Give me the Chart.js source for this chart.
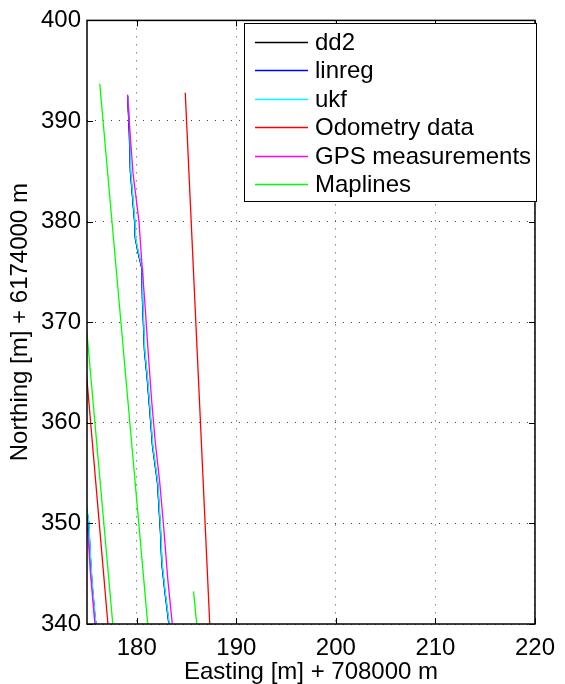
<!DOCTYPE html>
<html>
<head>
<meta charset="utf-8">
<title>Northing vs Easting</title>
<script src="https://cdn.jsdelivr.net/npm/chart.js@4.4.0/dist/chart.umd.min.js"></script>
<style>
  body { margin: 0; background: #fff; }
</style>
</head>
<body>
<canvas id="myChart" width="565" height="684"></canvas>
<script>
// tick labels
const xTicks = [180, 190, 200, 210, 220];
const yTicks = [340, 350, 360, 370, 380, 390, 400];

// track: upper long segment, null, then short segment at the left edge
const trackY = [392.45, 388.88, 384.94, 380.02, 378.35, 377.07, 375.39, 372.15, 370.47, 367.22,
                364.27, 360.93, 357.68, 354.04, 349.31, 346.06, 343.40, 339.96,
                null, 352.5, 350.0, 347.34, 344.09, 340.3, 339.8];
const dd2X    = [179.08, 179.26, 179.37, 179.79, 179.86, 180.11, 180.51, 180.58, 180.65, 180.78,
                 181.07, 181.34, 181.59, 182.09, 182.38, 182.52, 182.81, 183.24,
                 null, 174.8, 175.17, 175.29, 175.49, 175.83, 175.87];
const linregX = [179.10, 179.24, 179.36, 179.78, 179.85, 180.10, 180.50, 180.57, 180.64, 180.77,
                 181.06, 181.33, 181.58, 182.08, 182.37, 182.51, 182.80, 183.23,
                 null, 174.8, 175.18, 175.30, 175.50, 175.84, 175.88];
const ukfX    = [179.13, 179.30, 179.40, 179.82, 179.89, 180.15, 180.54, 180.61, 180.68, 180.81,
                 181.10, 181.37, 181.62, 182.12, 182.41, 182.55, 182.84, 183.27,
                 null, 174.85, 175.20, 175.32, 175.52, 175.86, 175.90];

// GPS measurements
const gpsX = [179.08, 179.33, 179.63, 180.22, 180.51, 180.81, 181.13, 181.50, 181.85, 182.31,
              182.73, 183.12, 183.56, null, 174.9, 175.07, 175.35, 175.79];
const gpsY = [392.62, 388.68, 384.74, 380.02, 375.89, 371.95, 367.22, 362.11, 358.17, 354.04,
              349.31, 344.39, 340.06, null, 351.0, 349.3, 345.0, 340.0];

// Odometry data
const odoX = [184.87, 187.33, null, 174.7, 177.10];
const odoY = [392.81, 340.0, null, 367.7, 340.0];

// Maplines
const mapX = [176.28, 181.10, null, 174.7, 177.59, null, 185.70, 186.02];
const mapY = [393.70, 340.0, null, 372.2, 340.0, null, 343.24, 340.0];

function pts(xs, ys) {
  return xs.map((v, i) => ({ x: v, y: ys[i] }));
}

// later series drawn on top, like matlab
function series(label, xs, ys, color, order) {
  return {
    label: label,
    data: pts(xs, ys),
    borderColor: color,
    backgroundColor: color,
    borderWidth: 1.3,
    showLine: true,
    spanGaps: false,
    pointRadius: 0,
    tension: 0,
    order: order
  };
}

const FONT = "'Liberation Sans', Arial, Helvetica, sans-serif";
Chart.defaults.font.family = FONT;
Chart.defaults.font.size = 24;
Chart.defaults.color = '#000';

// box, inward ticks and legend inside the plot
const framePlugin = {
  id: 'frame',
  afterDraw(chart) {
    const { ctx, chartArea: a, scales: { x, y } } = chart;
    ctx.save();
    ctx.strokeStyle = '#000';
    ctx.lineWidth = 1;
    ctx.beginPath();
    xTicks.forEach((v) => {
      const px = Math.round(x.getPixelForValue(v)) + 0.5;
      ctx.moveTo(px, a.bottom); ctx.lineTo(px, a.bottom - 6);
      ctx.moveTo(px, a.top); ctx.lineTo(px, a.top + 6);
    });
    yTicks.forEach((v) => {
      const py = Math.round(y.getPixelForValue(v)) + 0.5;
      ctx.moveTo(a.left, py); ctx.lineTo(a.left + 6, py);
      ctx.moveTo(a.right, py); ctx.lineTo(a.right - 6, py);
    });
    ctx.stroke();
    ctx.lineWidth = 1.5;
    ctx.strokeRect(a.left, a.top, a.right - a.left, a.bottom - a.top);

    // legend
    const lx = 244, ly = 23, lw = 292, lh = 178;
    ctx.fillStyle = '#fff';
    ctx.fillRect(lx, ly, lw, lh);
    ctx.lineWidth = 1;
    ctx.strokeStyle = '#000';
    ctx.strokeRect(lx + 0.5, ly + 0.5, lw, lh);
    ctx.font = '24px ' + FONT;
    ctx.textBaseline = 'middle';
    chart.data.datasets.forEach((ds, i) => {
      const ry = Math.round(41.7 + i * 28.45) + 0.5;
      ctx.strokeStyle = ds.borderColor;
      ctx.lineWidth = 1.3;
      ctx.beginPath();
      ctx.moveTo(255, ry);
      ctx.lineTo(308, ry);
      ctx.stroke();
      ctx.fillStyle = '#000';
      ctx.fillText(ds.label, 315, ry + 1);
    });
    ctx.restore();
  }
};

const ctx = document.getElementById('myChart').getContext('2d');

const myChart = new Chart(ctx, {
  type: 'scatter',
  data: {
    datasets: [
      series('dd2', dd2X, trackY, '#000000', 6),
      series('linreg', linregX, trackY, '#0000ff', 5),
      series('ukf', ukfX, trackY, '#00ffff', 4),
      series('Odometry data', odoX, odoY, '#ff0000', 3),
      series('GPS measurements', gpsX, gpsY, '#ff00ff', 2),
      series('Maplines', mapX, mapY, '#00ff00', 1)
    ]
  },
  options: {
    responsive: false,
    animation: false,
    layout: { padding: { top: 15, right: 21, left: 0, bottom: 0 } },
    plugins: {
      legend: { display: false },
      tooltip: { enabled: false }
    },
    scales: {
      x: {
        type: 'linear',
        min: 175,
        max: 220,
        afterBuildTicks: (scale) => { scale.ticks = xTicks.map((v) => ({ value: v })); },
        afterFit: (scale) => { scale.height = 60; },
        ticks: { padding: 10, maxRotation: 0 },
        grid: { color: '#444', lineWidth: 1, drawTicks: false },
        border: { display: false, dash: [1, 7] },
        title: {
          display: true,
          text: 'Easting [m] + 708000 m',
          font: { lineHeight: 1.0 },
          padding: { top: 0, bottom: 0 }
        }
      },
      y: {
        type: 'linear',
        min: 340,
        max: 400,
        afterBuildTicks: (scale) => { scale.ticks = yTicks.map((v) => ({ value: v })); },
        afterFit: (scale) => { scale.width = 87; },
        ticks: { padding: 6 },
        grid: { color: '#444', lineWidth: 1, drawTicks: false },
        border: { display: false, dash: [1, 7] },
        title: {
          display: true,
          text: 'Northing [m] + 6174000 m',
          padding: { top: 6, bottom: 0 }
        }
      }
    }
  },
  plugins: [framePlugin]
});
</script>
</body>
</html>
